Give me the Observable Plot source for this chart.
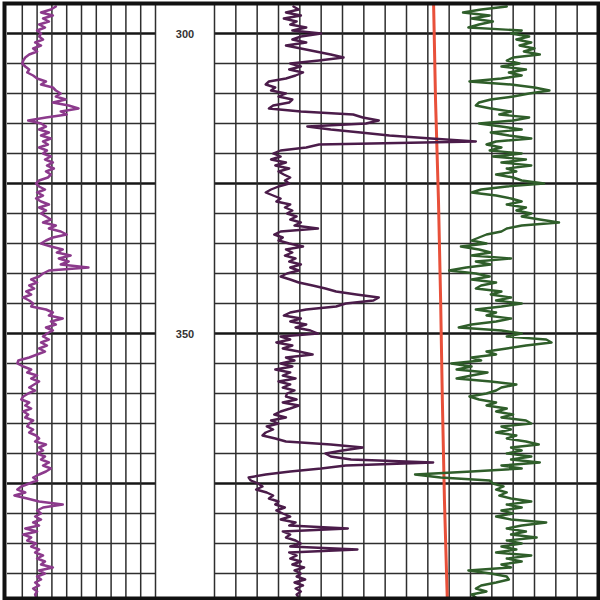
<!DOCTYPE html>
<html><head><meta charset="utf-8">
<script src="https://cdn.jsdelivr.net/npm/d3@7"></script>
<script src="https://cdn.jsdelivr.net/npm/@observablehq/plot@0.6"></script>
<style>
html,body{margin:0;padding:0;background:#fff;}
#chart{position:relative;width:600px;height:600px;}
#chart svg{position:absolute;left:0;top:0;}
</style></head><body><div id="chart"></div>
<script>
// depth sampling of the log curves
const depthTop = 295.5, depthStep = 0.5;
const depthDomain = [295, 394];
const depthLabels = [300, 350];
const minorDepths = [305,310,315,320,330,335,340,345,355,360,365,370,380,385,390];
const majorDepths = [300,325,350,375];
const track1Ticks = [15,30,45,60,75,90,105,120,135,150];
const track2Ticks = [10,20,30,40,50,60,70,80,90,100,110,120,130,140,150,160,170];

// Track 1 curve (purple)
const gammaRay = [
49,44,34,46,36,42,32,38,30,34,
32,36,28,34,26,30,22,18,16,15,
18,22,20,26,30,39,34,46,49,54,
49,59,46,62,72,54,60,39,21,34,
39,32,42,34,44,36,41,32,40,36,
44,38,46,40,47,39,44,41,32,29,
32,38,30,36,29,34,42,32,39,34,
39,44,36,49,42,54,60,46,39,34,
44,56,50,64,52,62,54,82,42,36,
32,24,30,22,27,19,24,16,22,26,
24,39,46,42,56,44,49,39,46,40,
36,42,34,40,32,38,30,22,11,10,
16,24,20,30,24,32,27,22,28,21,
16,14,22,18,24,16,21,18,26,22,
20,26,22,29,32,28,39,32,36,30,
38,34,42,36,44,39,32,26,30,22,
14,10,18,7,20,32,56,36,30,34,
28,34,26,32,18,30,16,24,20,29,
24,32,28,36,30,38,34,46,32,38,
30,34,28,32,26,30,28,29];

// Track 2 curves
const resistivity = [
37,39.5,33.5,40.5,32.5,38.5,35.5,43,36.5,50,
40.5,36.5,43,33.5,40.5,47.5,54.5,60.5,49,35.5,
40.5,35,41.5,38,33.5,25.5,24,28.5,26.5,33.5,
30,36.5,35,27.5,25.5,40.5,65,69.5,77,71,
43.5,54.5,68.5,82,101.5,122.5,49,43,31,27.5,
31,26.5,33.5,28.5,35,30,32.5,35.5,33,35,
30,26.5,24,27.5,31,29,35.5,33,36.5,34,
38.5,35.5,40.5,37.5,48.5,31,28,32,30,35,
41.5,33.5,36.5,33,38,35,40.5,35.5,39.5,34,
31,35.5,39.5,46,52,57,66.5,77,74.5,61.5,
57,43,35.5,32.5,40.5,35.5,43,38,45,48.5,
31,35.5,29,36.5,32,39.5,46,33.5,37.5,31,
36.5,28.5,35.5,32,38,30,35.5,32,37.5,34,
33.5,38.5,32,39.5,35.5,31,28,33.5,26.5,30,
24.5,27.5,24,22.5,28.5,33.5,54.5,69.5,60,52,
54.5,64,102.5,61.5,50,35.5,24,16,17,20.5,
22.5,19.5,24.5,27.5,25.5,30,28.5,33,29,32,
35.5,31,38,35,62.5,32,35.5,33.5,38,40.5,
35.5,67,35,38.5,35.5,40.5,36.5,42,37.5,40.5,
38.5,42.5,37.5,41.5,38,40.5,38.5,39.5];

const neutron = [
137,125,116.5,129,120.5,130.5,124,119,144,139,
147.5,141.5,148.5,143,150,145,152.5,140,137,143,
134.5,146,138,144,134.5,119.5,139,150,157,147.5,
140,129.5,124,122.5,129.5,139,133.5,147.5,140,124,
134.5,144,129.5,138,148.5,132,127.5,134.5,129,144,
130.5,146,134.5,148.5,137,141.5,132,140,144,154.5,
137,125,120.5,132,139,144,137,146,141.5,148.5,
144,152.5,161.5,144,137,134.5,127.5,124,120.5,127.5,
115.5,124,129.5,120.5,139,122.5,129.5,118,110,122.5,
129,120.5,132,125,122.5,134.5,129.5,139,132,144,
134.5,122.5,132,127.5,139,132,120.5,114.5,134.5,144,
137,155.5,158,146,137,127.5,132,120.5,125,111,
120.5,113.5,128,120.5,113.5,129.5,141.5,134.5,132,127.5,
119.5,124,132,127.5,137,132,140,134.5,146,148.5,
134.5,139,132,141.5,137,146,152,139,144,137,
148.5,139,152.5,134.5,144,120.5,94,106,129,130.5,
135.5,132,137,133.5,139,148.5,137,144,134.5,140,
132,139,155.5,144,137,146,139,151,137,144,
134.5,141.5,132,148.5,137,144,134.5,139,119,129.5,
137,138,132,125,122.5,127.5,120.5,122.5];

const redDepths = [295, 311, 328, 344.5, 361, 378, 394];
const redValues = [102.7, 103.6, 105, 106, 106.8, 107.8, 109.1];

const toRows = vals => vals.map((v, i) => ({depth: depthTop + i * depthStep, value: v}));
const redRows = redDepths.map((d, i) => ({depth: d, value: redValues[i]}));

const GRID = "#2e2e2e", MAJOR = "#151515";
const common = {
  width: 600, height: 600, marginTop: 3, marginBottom: 3,
  y: {domain: depthDomain, reverse: true, axis: null},
  style: "background: transparent; overflow: visible;"
};

function gridMarks(xTicks) {
  return [
    Plot.ruleY(minorDepths, {stroke: GRID, strokeWidth: 1.5}),
    Plot.ruleY(majorDepths, {stroke: MAJOR, strokeWidth: 2.5}),
    Plot.ruleX(xTicks, {stroke: GRID, strokeWidth: 1.5})
  ];
}

const track1 = Plot.plot({
  ...common, marginLeft: 7, marginRight: 445,
  x: {domain: [0, 150], axis: null},
  marks: [
    ...gridMarks(track1Ticks),
    Plot.line(toRows(gammaRay), {x: "value", y: "depth", stroke: "#8c3a8c", strokeWidth: 2.5})
  ]
});

const depthTrack = Plot.plot({
  ...common, marginLeft: 155, marginRight: 386,
  x: {domain: [0, 1], axis: null},
  marks: [
    Plot.text(depthLabels, {y: d => d, frameAnchor: "middle", text: d => String(d),
      fontWeight: "bold", fontSize: 11, fill: "#333", fontFamily: "Liberation Sans, Arial, sans-serif", dy: 1})
  ]
});

const track2 = Plot.plot({
  ...common, marginLeft: 214, marginRight: 2,
  x: {domain: [0, 180], axis: null},
  marks: [
    ...gridMarks([0, ...track2Ticks]),
    Plot.line(redRows, {x: "value", y: "depth", stroke: "#e8503a", strokeWidth: 3}),
    Plot.line(toRows(resistivity), {x: "value", y: "depth", stroke: "#4b1c4a", strokeWidth: 2.4}),
    Plot.line(toRows(neutron), {x: "value", y: "depth", stroke: "#2f5e2a", strokeWidth: 2.4})
  ]
});

const border = Plot.plot({
  width: 600, height: 600, marginLeft: 4, marginRight: 2, marginTop: 3, marginBottom: 2,
  style: "background: transparent; overflow: visible;",
  marks: [Plot.frame({stroke: "#111", strokeWidth: 4})]
});

const chart = document.getElementById("chart");
[track1, depthTrack, track2, border].forEach(s => chart.appendChild(s));
</script></body></html>
